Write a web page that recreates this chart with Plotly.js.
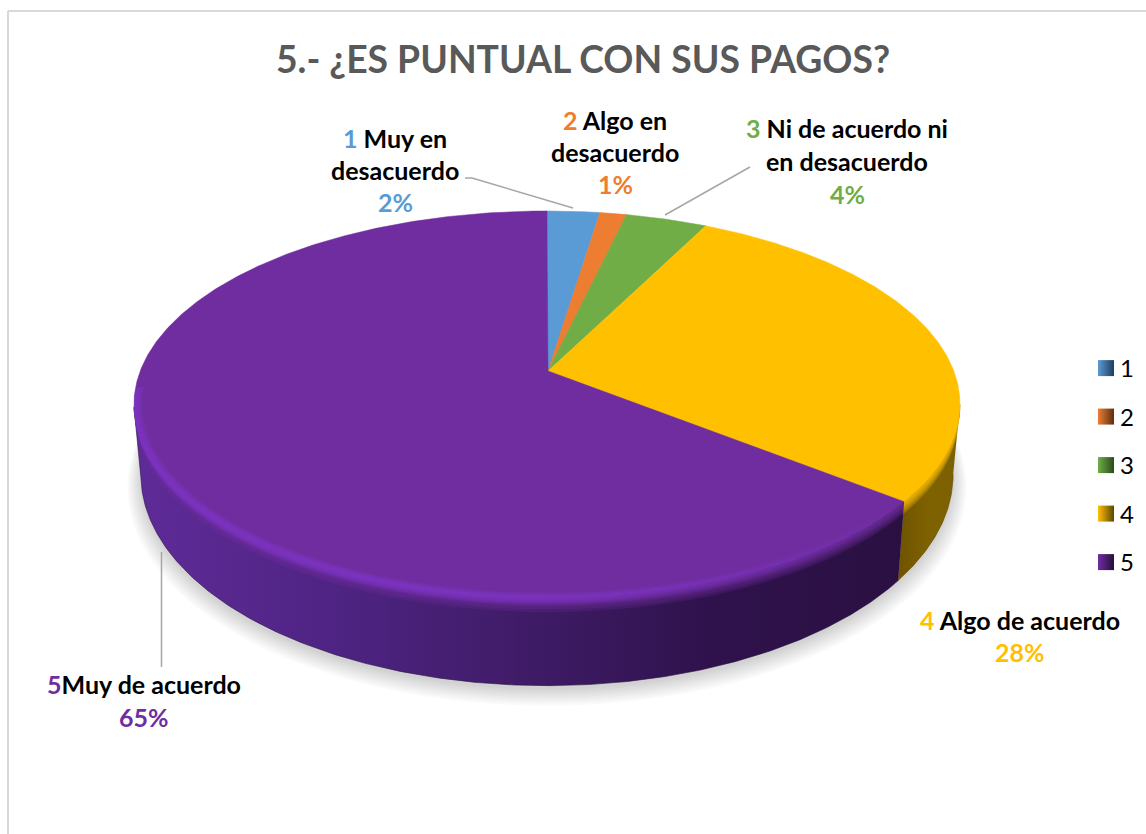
<!DOCTYPE html>
<html><head><meta charset="utf-8">
<script src="https://cdn.plot.ly/plotly-3.0.1.min.js"></script>
<style>html,body{margin:0;padding:0;background:#fff}#c{width:1146px;height:834px}</style></head>
<body><div id="c"></div>
<script>
// DATA (counts; they round to the printed percentages)
const categories = ["1","2","3","4","5"];
const counts = [2,1,3,23,54];
const categoryNames = ["Muy en desacuerdo","Algo en desacuerdo","Ni de acuerdo ni en desacuerdo","Algo de acuerdo","Muy de acuerdo"];
const sliceColors = ["#5b9bd5","#ed7d31","#70ad47","#ffc000","#702da0"];
const legendDark = ["#1f3d5a","#5c2e10","#2a4a1a","#5c4600","#25103c"];
const titleText = "5.- ¿ES PUNTUAL CON SUS PAGOS?";

const total = counts.reduce((a,b)=>a+b,0);
const pct = counts.map(v=>Math.round(v/total*100)+"%");
let run=0; const edges=[0]; counts.forEach(v=>{run+=v; edges.push(run/total*360);});

// perspective disc projection
const topDisc={cx:547,cy:371,A:406.8,B:187.7,k:.173};
const lowDisc={cx:547,cy:438,A:400,B:204.8,k:.173};
const lerp=(a,b,t)=>a+(b-a)*t;
const midDisc=t=>({cx:547,cy:lerp(topDisc.cy,lowDisc.cy,t),A:lerp(topDisc.A,lowDisc.A,t),B:lerp(topDisc.B,lowDisc.B,t),k:.173});
function pt(a,d,r=1,dy=0){const t0=a*Math.PI/180,t=t0+4*Math.PI/180*Math.sin(t0)*Math.sin(t0),u=r*Math.sin(t),v=-r*Math.cos(t),w=1-d.k*v;return [d.cx+d.A*u/w,d.cy+d.B*v/w+dy];}
function arc(a0,a1,d,r=1,dy=0){const n=Math.max(2,Math.ceil(Math.abs(a1-a0)*2)),o=[];for(let i=0;i<=n;i++)o.push(pt(lerp(a0,a1,i/n),d,r,dy));return o;}
function polyTrace(pts,extra){return Object.assign({type:"scatter",mode:"none",x:pts.map(p=>p[0]),y:pts.map(p=>p[1]),fill:"toself",showlegend:false,hoverinfo:"skip"},extra);}
function band(a0,a1,rIn,frac,extra){return polyTrace(arc(a0,a1,topDisc,rIn).concat(arc(a1,a0,midDisc(frac))),extra);}

const traces=[];
// soft ground shadow
for(let i=0;i<9;i++){
  const s=1.0+i*0.004;
  traces.push(polyTrace(arc(0,360,lowDisc,s,4+i*0.8),{fillcolor:"rgba(0,0,0,0.02)"}));
}
// rim
const rimR=96,rimL=255.5,e4=edges[4];
traces.push(polyTrace(arc(rimR,e4,topDisc).concat(arc(e4,rimR,lowDisc)),{fillgradient:{type:"horizontal",colorscale:[[0,"#6f5300"],[0.5,"#7f6200"],[1,"#7c5f00"]]},mode:"lines",line:{width:.6,color:"#6a5000"}}));
traces.push(polyTrace(arc(e4,rimL,topDisc).concat(arc(rimL,e4,lowDisc)),{fillgradient:{type:"horizontal",colorscale:[[0,"#5f2b98"],[0.25,"#4f2484"],[0.5,"#401c68"],[0.75,"#2f124c"],[1,"#2a1042"]]},mode:"lines",line:{width:.6,color:"#2a1042"}}));
// top surface, one slice per category
counts.forEach((v,i)=>{
  const a=arc(edges[i],edges[i+1],topDisc);
  const pts=[[topDisc.cx+1,topDisc.cy]].concat(a,[[topDisc.cx+1,topDisc.cy]]);
  traces.push(polyTrace(pts,{name:categories[i],text:categoryNames[i],mode:"lines",line:{width:.5,color:sliceColors[i]},fillcolor:sliceColors[i]}));
});
// soft rounded edge: top colour fading into the rim
[.025,.05,.075,.10,.13,.16].forEach(f=>{
  traces.push(band(rimR,e4,1,f,{fillcolor:"rgba(255,192,0,0.24)"}));
  traces.push(band(e4,rimL,1,f,{fillcolor:"rgba(112,45,160,0.24)"}));
});
// bright highlight along the front-left edge
[[.996,.012],[.993,.024],[.99,.036],[.987,.05],[.984,.065],[.98,.08]].forEach(b=>traces.push(band(e4,rimL+6,b[0],b[1],{fillgradient:{type:"horizontal",colorscale:[[0,"rgba(126,52,200,.22)"],[.5,"rgba(126,52,200,.22)"],[.8,"rgba(126,52,200,.09)"],[1,"rgba(126,52,200,0)"]]}})));
// legend entries
categories.forEach((c,i)=>traces.push({type:"scatter",mode:"markers",x:[-50],y:[-50],name:c,legendgroup:c,showlegend:true,hoverinfo:"skip",
  marker:{symbol:"square",size:17,color:sliceColors[i],gradient:{type:"horizontal",color:legendDark[i]},line:{width:0}}}));

// data labels: every line is centred on the label's x
const c=sliceColors;
const labelLines=[
 [395,138,`<span style="color:${c[0]}">1</span> Muy en`],[395,170,"desacuerdo"],[395,202,`<span style="color:${c[0]}">${pct[0]}</span>`],
 [615,120,`<span style="color:${c[1]}">2</span> Algo en`],[615,152,"desacuerdo"],[615,184,`<span style="color:${c[1]}">${pct[1]}</span>`],
 [847,128,`<span style="color:${c[2]}">3</span> Ni de acuerdo ni`],[847,161,"en desacuerdo"],[847,194,`<span style="color:${c[2]}">${pct[2]}</span>`],
 [1020,620,`<span style="color:${c[3]}">4</span> Algo de acuerdo`],[1020,652,`<span style="color:${c[3]}">${pct[3]}</span>`],
 [144,684,`<span style="color:${c[4]}">5</span>Muy de acuerdo`],[144,717,`<span style="color:${c[4]}">${pct[4]}</span>`]
];
const annotations=labelLines.map(l=>({xref:"x",yref:"y",x:l[0],y:l[1],text:l[2],showarrow:false,xanchor:"center",yanchor:"middle",font:{family:"Lato",size:25,weight:700,color:"#000"}}));
const seg=(x0,y0,x1,y1,color="#a6a6a6",width=1.5)=>({type:"line",xref:"x",yref:"y",x0,y0,x1,y1,line:{color,width}});
const shapes=[seg(8,11,1146,11,"#d9d9d9",2),seg(8,11,8,834,"#d9d9d9",2),
  seg(465,178,472,178),seg(472,178,573,208),seg(750,167,665,215),seg(161.5,552,161.5,667)];

Plotly.newPlot("c",traces,{
  width:1146,height:834,margin:{l:0,r:0,t:0,b:0,autoexpand:false},paper_bgcolor:"#fff",plot_bgcolor:"#fff",
  title:{text:titleText,x:583/1146,xanchor:"center",y:1-60/834,yanchor:"middle",font:{family:"Lato",size:37.3,weight:700,color:"#595959"}},
  xaxis:{range:[0,1146],visible:false,fixedrange:true},
  yaxis:{range:[834,0],visible:false,fixedrange:true},
  legend:{x:1086/1146,xanchor:"left",y:1-(346/834),yanchor:"top",tracegroupgap:14.3,font:{family:"Lato",size:24,color:"#000"},bgcolor:"rgba(0,0,0,0)"},
  annotations,shapes
},{displayModeBar:false,staticPlot:true}).then(()=>{
  document.querySelectorAll(".legend .legendtext").forEach(t=>t.setAttribute("x",+t.getAttribute("x")-6));
});
</script></body></html>
